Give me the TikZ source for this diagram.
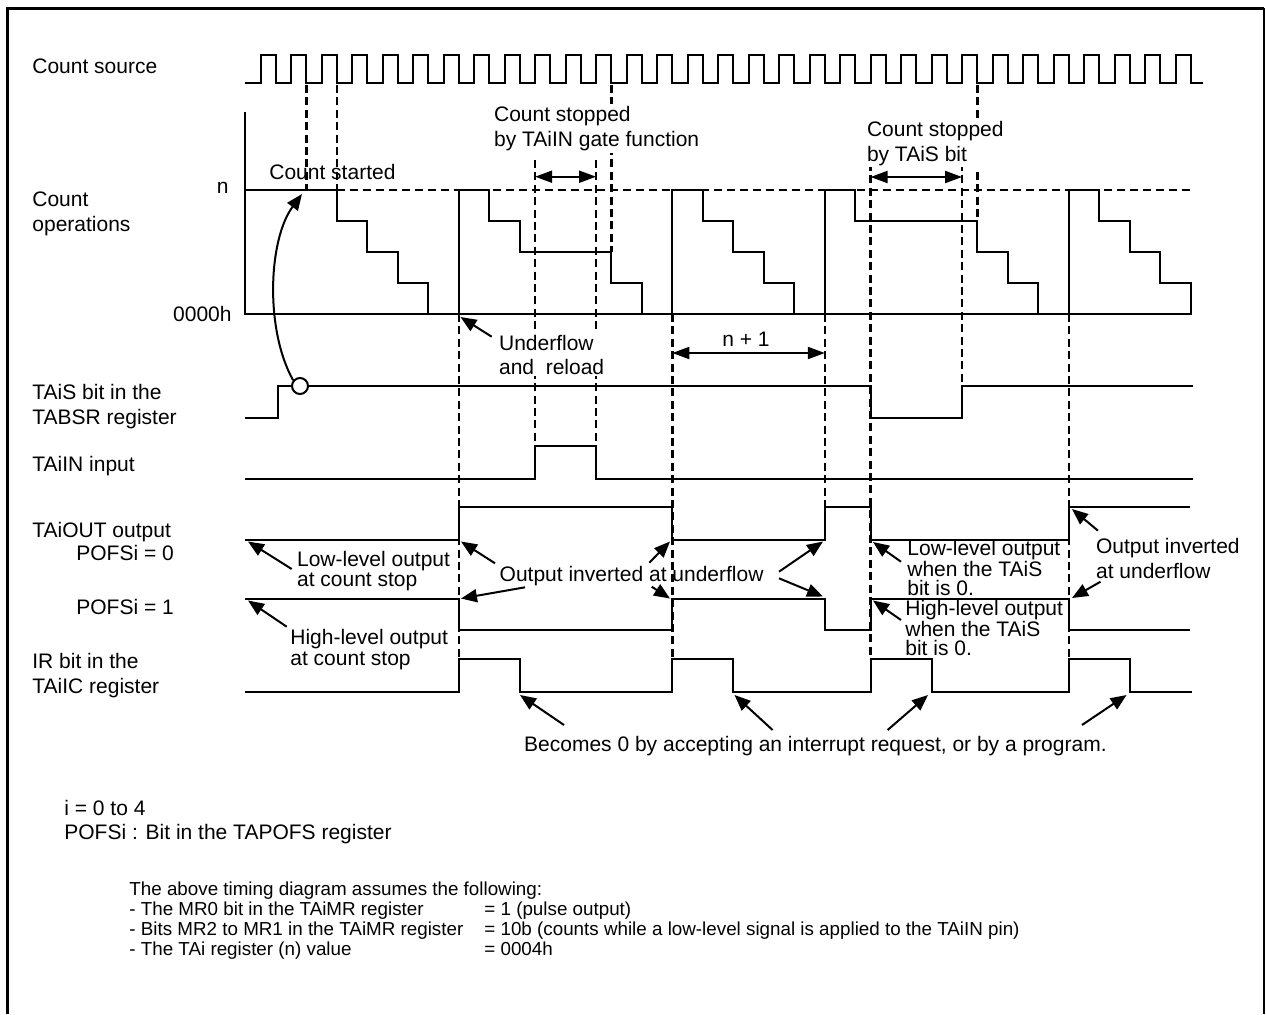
\documentclass[tikz,border=0pt]{standalone}
\usepackage{fontspec}
\setmainfont{Liberation Sans}
\usetikzlibrary{arrows.meta}
\begin{document}
\begin{tikzpicture}[x=0.5pt,y=-0.5pt,
  sig/.style={line width=1pt, line join=miter},
  guide/.style={line width=1.3pt, dash pattern=on 4pt off 2.2pt},
  nline/.style={line width=1pt, dash pattern=on 4pt off 2.5pt},
  lbl/.style={font=\fontsize{10.5pt}{12.5pt}\selectfont, inner sep=0pt, anchor=base west, align=left},
  small/.style={font=\fontsize{9.4pt}{10pt}\selectfont, inner sep=0pt, anchor=base west},
  arr/.style={line width=1pt, -{Triangle[length=8pt,width=6.5pt]}},
  darr/.style={line width=1pt, {Triangle[length=8.5pt,width=6pt]}-{Triangle[length=8.5pt,width=6pt]}},
]
\useasboundingbox (0,0) rectangle (1266,1014);
\def\uA{458.85}\def\uB{672.35}\def\uC{824.85}\def\uD{1068.85}
\def\gA{535.1}\def\gB{596.1}\def\tA{870.6}\def\tB{962.1}
% frame
\draw[line width=1.5pt] (7,1014) -- (7,8) -- (1264,8);
\draw[line width=0.8pt] (1264,8) -- (1264,1014);

% ---------- labels (left) ----------
\node[lbl] (cs) at (32,73.5) {Count source};
\node[lbl] (co) at (32,231.5) {Count\\operations};
\node[lbl, anchor=base east] (nlab) at (229,193) {n};
\node[lbl, anchor=base east] (zero) at (232,321.5) {0000h};
\node[lbl] (tais) at (32,424.5) {TAiS bit in the\\TABSR register};
\node[lbl] (taiin) at (32,471.5) {TAiIN input};
\node[lbl] (taiout) at (32,537.5) {TAiOUT output};
\node[lbl] (p0) at (76,560.5) {POFSi = 0};
\node[lbl] (p1) at (76,614.5) {POFSi = 1};
\node[lbl] (ir) at (32,693.5) {IR bit in the\\TAiIC register};

% ---------- clock ----------
\draw[sig] (245,83) \foreach \k in {0,...,30} { -- ({260.6+30.5*\k},83) -- ({260.6+30.5*\k},55) -- ({275.85+30.5*\k},55) -- ({275.85+30.5*\k},83) } -- (1203,83);

% ---------- count operations ----------
\draw[sig] (245,112) -- (245,314) -- (1192,314);
\draw[nline] (336.85,190) -- (1192,190);
\draw[sig] (245,190) -- (336.85,190) -- (336.85,221) -- (367.35,221) -- (367.35,252) -- (397.85,252) -- (397.85,283) -- (428.35,283) -- (428.35,314);
\draw[sig] (\uA,314) -- (\uA,190) -- (489.35,190) -- (489.35,221) -- (519.85,221) -- (519.85,252) -- (611.35,252) -- (611.35,283) -- (641.85,283) -- (641.85,314);
\draw[sig] (\uB,314) -- (\uB,190) -- (702.85,190) -- (702.85,221) -- (733.35,221) -- (733.35,252) -- (763.85,252) -- (763.85,283) -- (794.35,283) -- (794.35,314);
\draw[sig] (\uC,314) -- (\uC,190) -- (855.35,190) -- (855.35,221) -- (977.35,221) -- (977.35,252) -- (1007.85,252) -- (1007.85,283) -- (1038.35,283) -- (1038.35,314);
\draw[sig] (\uD,314) -- (\uD,190) -- (1099.35,190) -- (1099.35,221) -- (1129.85,221) -- (1129.85,252) -- (1160.35,252) -- (1160.35,283) -- (1190.85,283) -- (1190.85,314);

% ---------- TAiS ----------
\draw[sig] (245,418) -- (278.3,418) -- (278.3,386) -- (\tA,386) -- (\tA,418) -- (\tB,418) -- (\tB,386) -- (1193,386);
% ---------- TAiIN ----------
\draw[sig] (245,479) -- (\gA,479) -- (\gA,446) -- (\gB,446) -- (\gB,479) -- (1193,479);
% ---------- TAiOUT ----------
\draw[sig] (245,539.5) -- (\uA,539.5) -- (\uA,506.5) -- (\uB,506.5) -- (\uB,539.5) -- (\uC,539.5) -- (\uC,506.5) -- (\tA,506.5) -- (\tA,539.5) -- (\uD,539.5) -- (\uD,506.5) -- (1190,506.5);
\draw[sig] (245,598.5) -- (\uA,598.5) -- (\uA,630) -- (\uB,630) -- (\uB,598.5) -- (\uC,598.5) -- (\uC,630) -- (\tA,630) -- (\tA,598.5) -- (\uD,598.5) -- (\uD,630) -- (1190,630);
% ---------- IR ----------
\draw[sig] (245,691.5) -- (\uA,691.5) -- (\uA,659) -- (519.85,659) -- (519.85,691.5) -- (\uB,691.5) -- (\uB,659) -- (733.35,659) -- (733.35,691.5) -- (\tA,691.5) -- (\tA,659) -- (931.6,659) -- (931.6,691.5) -- (\uD,691.5) -- (\uD,659) -- (1129.85,659) -- (1129.85,691.5) -- (1192,691.5);

% ---------- dashed guides ----------
\draw[guide] (306.35,85) -- (306.35,190);
\draw[guide] (336.85,85) -- (336.85,190);
\draw[guide] (611.35,85) -- (611.35,252);
\draw[guide] (977.35,85) -- (977.35,221);
\draw[guide] (\gA,160) -- (\gA,446);
\draw[guide] (\gB,160) -- (\gB,446);
\draw[guide] (\tA,163) -- (\tA,659);
\draw[guide] (\tB,163) -- (\tB,386);
\draw[guide] (\uA,314) -- (\uA,659);
\draw[guide] (\uB,314) -- (\uB,659);
\draw[guide] (\uC,314) -- (\uC,506.5);
\draw[guide] (\uD,314) -- (\uD,659);

% ---------- annotation texts ----------
\node[lbl] (started) at (269,179) {Count started};
\node[lbl, fill=white, inner sep=1pt] (gatestop) at (491.7,146.7) {Count stopped\\by TAiIN gate function};
\node[lbl, fill=white, inner sep=1pt] (taisstop) at (864.6,161) {Count stopped\\by TAiS bit};
\node[lbl, fill=white, inner sep=1pt, font=\fontsize{10.5pt}{12pt}\selectfont] (uflow) at (496.7,374) {Underflow\\and\ \ reload};
\node[lbl, anchor=base] (np1) at (746,346.7) {n + 1};
\node[lbl, font=\fontsize{10.5pt}{10pt}\selectfont] (lowstop) at (296.7,586.7) {Low-level output\\at count stop};
\node[lbl, font=\fontsize{10.5pt}{10.5pt}\selectfont] (highstop) at (290,665) {High-level output\\at count stop};
\node[lbl] (oinv) at (499.3,581.7) {Output inverted at underflow};
\node[lbl, font=\fontsize{10.5pt}{9.3pt}\selectfont] (lowtais) at (907,595.5) {Low-level output\\when the TAiS\\bit is 0.};
\node[lbl, font=\fontsize{10.5pt}{9.3pt}\selectfont] (hightais) at (905,655.5) {High-level output\\when the TAiS\\bit is 0.};
\node[lbl] (oinv2) at (1095.7,578.3) {Output inverted\\at underflow};
\node[lbl] (becomes) at (523.8,751.7) {Becomes 0 by accepting an interrupt request, or by a program.};

% ---------- arrows ----------
\node[circle, draw, line width=1pt, fill=white, minimum size=8pt, inner sep=0pt] (circ) at (300,386) {};
\coordinate (cstip) at (302,194);
\draw[line width=1pt, -{Triangle[length=8pt,width=6.5pt]}] (circ.140) .. controls (265,330) and (268,240) .. (cstip);

\coordinate (gL) at (\gA,176.7); \coordinate (gR) at (\gB,176.7);
\draw[darr] (gL) -- (gR);
\coordinate (tL) at (\tA,177); \coordinate (tR) at (\tB,177);
\draw[darr] (tL) -- (tR);
\coordinate (nL) at (\uB,353); \coordinate (nR) at (\uC,353);
\draw[darr] (nL) -- (nR);

\coordinate (ufT) at (491.7,336.7); \coordinate (ufH) at (460.5,317);
\draw[arr] (ufT) -- (ufH);
\coordinate (lsT) at (291.7,569); \coordinate (lsH) at (248,541.5);
\draw[arr] (lsT) -- (lsH);
\coordinate (hsT) at (286.7,626.7); \coordinate (hsH) at (248,600.5);
\draw[arr] (hsT) -- (hsH);

\coordinate (o1T) at (495,563.3); \coordinate (o1H) at (461,541.5);
\coordinate (o2T) at (525,587.3); \coordinate (o2H) at (461,598.5);
\coordinate (o3T) at (649.3,562.7); \coordinate (o3H) at (670,541.5);
\coordinate (o4T) at (651.7,586.7); \coordinate (o4H) at (670,598.5);
\coordinate (o5T) at (779,571.7); \coordinate (o5H) at (823,541.5);
\coordinate (o6T) at (779,578.3); \coordinate (o6H) at (823,596.5);
\foreach \i in {1,...,6} { \draw[arr] (o\i T) -- (o\i H); }

\coordinate (ltT) at (901,561.7); \coordinate (ltH) at (873,542);
\draw[arr] (ltT) -- (ltH);
\coordinate (htT) at (901,620); \coordinate (htH) at (873,600.5);
\draw[arr] (htT) -- (htH);
\coordinate (r1T) at (1098,530.7); \coordinate (r1H) at (1072,509);
\draw[arr] (r1T) -- (r1H);
\coordinate (r2T) at (1100.5,581.7); \coordinate (r2H) at (1072,598);
\draw[arr] (r2T) -- (r2H);

\coordinate (b1T) at (564,725); \coordinate (b1H) at (520,695);
\coordinate (b2T) at (772.6,730); \coordinate (b2H) at (734.5,695);
\coordinate (b3T) at (887.6,730); \coordinate (b3H) at (928,695);
\coordinate (b4T) at (1082,725); \coordinate (b4H) at (1126.6,695);
\foreach \i in {1,...,4} { \draw[arr] (b\i T) -- (b\i H); }

% ---------- notes ----------
\node[lbl] (note1) at (64,815) {i = 0 to 4};
\node[lbl] (note2) at (64,839) {POFSi : Bit in the TAPOFS register};
\node[small] (ass) at (129,895) {The above timing diagram assumes the following:};
\node[small] (a1) at (129,915) {- The MR0 bit in the TAiMR register};
\node[small] (a2) at (129,935) {- Bits MR2 to MR1 in the TAiMR register};
\node[small] (a3) at (129,955) {- The TAi register (n) value};
\node[small] (v1) at (484,915) {= 1 (pulse output)};
\node[small] (v2) at (484,935) {= 10b (counts while a low-level signal is applied to the TAiIN pin)};
\node[small] (v3) at (484,955) {= 0004h};
\end{tikzpicture}
\end{document}
